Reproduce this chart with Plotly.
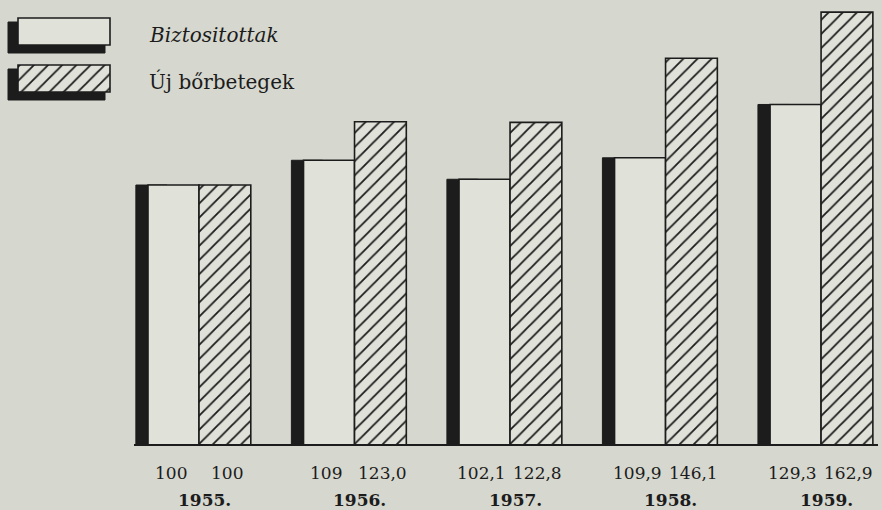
import plotly.graph_objects as go

# ---- data ----
years = ["1955.", "1956.", "1957.", "1958.", "1959."]
biztositottak = [100, 109, 102.1, 109.9, 129.3]
uj_borbetegek = [100, 123.0, 122.8, 146.1, 162.9]
label_bizt = ["100", "109", "102,1", "109,9", "129,3"]
label_uj = ["100", "123,0", "122,8", "146,1", "162,9"]
series_names = ["Biztositottak", "Új bőrbetegek"]

BG = "rgb(214,215,206)"
FILL = "rgb(224,225,217)"
INK = "rgb(28,28,28)"
SERIF = "DejaVu Serif"
PLOT_H = 444

x = list(range(len(years)))
BW = 0.328

fig = go.Figure()

# dark 3D side of the plain bars
fig.add_trace(go.Bar(
    x=x, y=biztositottak, offset=-BW - 0.078, width=0.2,
    marker=dict(color=INK, line=dict(color=INK, width=1)),
    showlegend=False, hoverinfo="skip"))
# plain bars
fig.add_trace(go.Bar(
    x=x, y=biztositottak, offset=-BW, width=BW, name=series_names[0],
    marker=dict(color=FILL, line=dict(color=INK, width=1.6)),
    showlegend=False))
# hatched bars
fig.add_trace(go.Bar(
    x=x, y=uj_borbetegek, offset=0, width=BW + 0.005, name=series_names[1],
    marker=dict(color=FILL, line=dict(color=INK, width=1.6),
                pattern=dict(shape="/", size=10, solidity=0.18,
                             fgcolor=INK, bgcolor=FILL, fillmode="replace")),
    showlegend=False))

# ---- legend swatches on a small auxiliary axis ----
fig.add_trace(go.Bar(
    orientation="h", y=[37.5, 84.5], x=[97, 97], base=8, width=31,
    marker=dict(color=INK, line=dict(color=INK, width=1)),
    xaxis="x2", yaxis="y2", showlegend=False, hoverinfo="skip"))
fig.add_trace(go.Bar(
    orientation="h", y=[31.5], x=[92], base=18, width=27,
    marker=dict(color=FILL, line=dict(color=INK, width=1.6)),
    xaxis="x2", yaxis="y2", showlegend=False, hoverinfo="skip"))
fig.add_trace(go.Bar(
    orientation="h", y=[78.5], x=[92], base=18, width=27,
    marker=dict(color=FILL, line=dict(color=INK, width=1.6),
                pattern=dict(shape="/", size=10, solidity=0.18,
                             fgcolor=INK, bgcolor=FILL, fillmode="replace")),
    xaxis="x2", yaxis="y2", showlegend=False, hoverinfo="skip"))

annotations = [
    dict(x=147 / 882, y=(PLOT_H - 35) / PLOT_H, xref="paper", yref="paper",
         text="<i>" + series_names[0] + "</i>",
         showarrow=False, xanchor="left", yanchor="middle",
         font=dict(family=SERIF, size=20, color=INK)),
    dict(x=147 / 882, y=(PLOT_H - 81) / PLOT_H, xref="paper", yref="paper",
         text=series_names[1],
         showarrow=False, xanchor="left", yanchor="middle",
         font=dict(family=SERIF, size=20, color=INK)),
]

for i in x:
    annotations.append(dict(x=i - BW / 2, y=0, xref="x", yref="paper", yshift=-29,
                            xshift=-3, text=label_bizt[i], showarrow=False,
                            yanchor="middle",
                            font=dict(family=SERIF, size=17, color=INK)))
    annotations.append(dict(x=i + BW / 2, y=0, xref="x", yref="paper", yshift=-29,
                            xshift=2, text=label_uj[i], showarrow=False,
                            yanchor="middle",
                            font=dict(family=SERIF, size=17, color=INK)))
    annotations.append(dict(x=i, y=0, xref="x", yref="paper", yshift=-56, xshift=5,
                            text="<b>" + years[i] + "</b>", showarrow=False,
                            yanchor="middle",
                            font=dict(family=SERIF, size=17, color=INK)))

fig.update_layout(
    width=882, height=510,
    margin=dict(l=0, r=0, t=0, b=510 - PLOT_H),
    paper_bgcolor=BG, plot_bgcolor=BG,
    barmode="overlay",
    xaxis=dict(domain=[134 / 882, 878 / 882], range=[-0.418, 4.366],
               showgrid=False, zeroline=False, showticklabels=False, ticks="",
               showline=True, linecolor=INK, linewidth=2, fixedrange=True),
    yaxis=dict(range=[5.8, 167.3], showgrid=False, zeroline=False,
               showticklabels=False, ticks="", showline=False, fixedrange=True),
    xaxis2=dict(domain=[0, 115 / 882], range=[0, 115], anchor="y2", visible=False,
                fixedrange=True),
    yaxis2=dict(domain=[(PLOT_H - 110) / PLOT_H, 1], range=[110, 0], anchor="x2",
                visible=False, fixedrange=True),
    annotations=annotations,
    showlegend=False,
)

fig.write_html("out.html", config={"displayModeBar": False},
               post_script="document.body.style.margin='0px';"
                           "document.body.style.background='" + BG + "';")
